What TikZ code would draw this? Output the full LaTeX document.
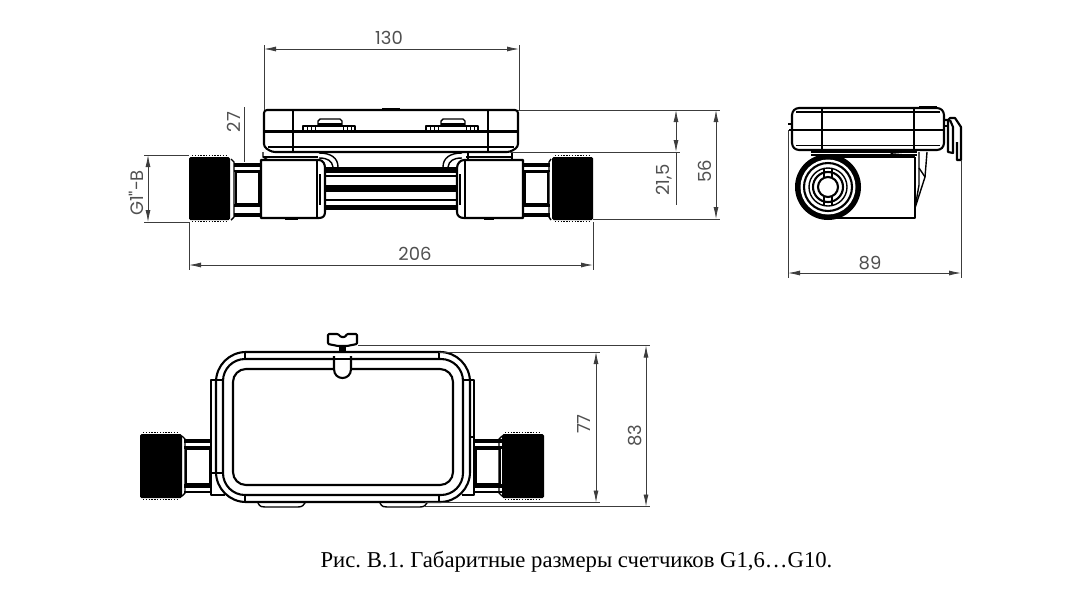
\documentclass[tikz,border=0pt]{standalone}
\usepackage{fontspec}
\setmainfont{Liberation Serif}
\newfontfamily\dimfont{Poppins}
\usetikzlibrary{arrows.meta}
\definecolor{dimgrey}{HTML}{3C3C3C}
\definecolor{valuegrey}{HTML}{505050}
\tikzset{
  part/.style={line width=1.4pt,line join=round},
  heavy/.style={line width=2.1pt,line join=round},
  extline/.style={line width=.8pt,draw=dimgrey},
  dimline/.style={line width=.8pt,draw=dimgrey,{Latex[length=12pt,width=5pt]}-{Latex[length=12pt,width=5pt]}},
  dimlabel/.style={font=\dimfont\fontsize{18}{18}\selectfont,text=valuegrey,inner sep=0pt},
  thread/.style={line width=1.2pt,dash pattern=on 1.4pt off 1.4pt},
}
\begin{document}
\begin{tikzpicture}[x=1pt,y=-1pt]
  \useasboundingbox (0,0) rectangle (1078,614);

  % Draw the front view housing
  \draw[heavy,fill=white,rounded corners=3pt] (264,110) -- (518,110) -- (518,147) -- (510,152) -- (272,152) -- (264,147) -- cycle;
  \draw[heavy] (264,131.5) -- (518,131.5);
  \draw[heavy] (268,147) -- (514,147);
  \draw[part] (293,110) -- (293,152);
  \draw[part] (488,110) -- (488,152);
  \draw[part] (382,108.5) -- (400,108.5);

  % Draw the two latches on the housing
  \foreach \tabx in {303,426}{
    \draw[part] (\tabx,131) -- (\tabx,126) -- (\tabx+52,126) -- (\tabx+52,131);
    \draw[part] (\tabx+15,126) -- (\tabx+15,121) -- (\tabx+17,119) -- (\tabx+37,119) -- (\tabx+39,121) -- (\tabx+39,126);
    \draw[part] (\tabx+15,124) -- (\tabx+39,124);
    \foreach \tabdx in {4,8,12,40,44,48}
      \draw (\tabx+\tabdx,126) -- (\tabx+\tabdx,131);
  }

  % Draw the pipe bars between the blocks
  \fill (323,167) rectangle (457,172.5);
  \fill (323,175) rectangle (457,177);
  \fill (323,185) rectangle (457,192);
  \fill (323,199) rectangle (457,201);
  \fill (323,204.5) rectangle (457,210);

  % Draw the bends under the housing
  \draw[part] (319,153) .. controls (331,153) and (338,158) .. (338,167);
  \draw[part] (319,158) .. controls (328,158) and (332,161) .. (333,167);
  \draw[part] (462,153) .. controls (450,153) and (443,158) .. (443,167);
  \draw[part] (462,158) .. controls (453,158) and (449,161) .. (448,167);

  % Draw the feet under the housing
  \draw[part] (263,152) -- (263,157) -- (268,160);
  \draw[part] (263,157) -- (318,157);
  \draw[part] (268,160) .. controls (272,165) and (280,165) .. (284,160);
  \draw[part] (466,160) .. controls (470,166) and (482,166) .. (486,160);
  \draw[part] (468,153) -- (468,159);
  \draw[part] (466,157) -- (512,157);
  \draw[part] (512,153) -- (512,159);

  % Draw the left and right blocks
  \draw[heavy,fill=white] (261,160) -- (319,160) .. controls (323,160) and (325,164) .. (325,168) -- (325,212) .. controls (325,216) and (323,218) .. (319,218) -- (261,218) -- cycle;
  \draw[part] (317,160) -- (317,218);
  \draw[part] (320,174) -- (320,205);
  \draw[heavy,fill=white] (523,160) -- (464,160) .. controls (460,160) and (457,164) .. (457,168) -- (457,212) .. controls (457,216) and (460,218) .. (464,218) -- (523,218) -- cycle;
  \draw[part] (465,160) -- (465,218);
  \draw[part] (460,174) -- (460,205);
  \draw[part] (285,219) -- (298,219);
  \draw[part] (484,219) -- (494,219);

  % Draw the connectors and nuts of the front view
  \foreach \pipex/\nutx in {234/189,523/552}{
    \fill (\pipex,163) rectangle (\pipex+27,167);
    \fill (\pipex,170) rectangle (\pipex+27,172);
    \fill (\pipex,204) rectangle (\pipex+27,207);
    \fill (\pipex,212.5) rectangle (\pipex+27,217);
    \draw[part] (\pipex+2,172) rectangle (\pipex+25,204);
    \fill[rounded corners=1.5pt] (\nutx,157) rectangle (\nutx+41,220);
    \draw[thread] (\nutx+3,155.5) -- (\nutx+38,155.5);
    \draw[thread] (\nutx+3,221.5) -- (\nutx+38,221.5);
  }
  \draw[part] (231,159) -- (234,162) -- (234,217) -- (231,220);
  \draw[part] (551,159) -- (549,162) -- (549,217) -- (551,220);

  % Draw the side view housing
  \draw[heavy,rounded corners=3pt] (792,112) -- (796,108) -- (940,108) -- (944,112) -- (944,146) -- (940,150) -- (796,150) -- (792,146) -- cycle;
  \draw[heavy] (789,130) -- (944,130);
  \draw[part] (796,145.5) -- (940,145.5);
  \draw[part] (796,112) -- (940,112);
  \draw[part] (822,108) -- (822,150);
  \draw[part] (914,108) -- (914,150);
  \draw[part] (919,106.5) -- (937,106.5);
  \draw[part] (788,124) -- (792,124);

  % Draw the hook on the side view
  \draw[heavy] (944,120) -- (948,120) -- (950,118) -- (955,118) -- (961,127) -- (961,160) -- (957,160) -- (957,142);
  \draw[heavy] (948,120) -- (948,152) -- (953,153) -- (953,127) -- (950,120);
  \draw[part] (944,126) -- (948,126);

  % Draw the block of the side view
  \draw[part] (811,152) -- (917,152);
  \draw[part] (811,155) -- (917,155);
  \draw[heavy] (829,157) -- (915,157);
  \draw[part] (829,218) -- (915,218) -- (915,157);
  \fill (890,153) .. controls (897,159) and (908,159) .. (914,155) -- cycle;
  \draw[part] (919,152) -- (919,185) -- (915,208);
  \draw[part] (927,152) -- (925,177) -- (915,208);
  \draw[part] (919,168) -- (925,177);

  % Draw the connector seen from the end
  \fill[fill=black] (828,187) circle (33);
  \fill[fill=white] (828,187) circle (27.5);
  \draw[heavy] (828,187) circle (24);
  \draw[part] (828,187) circle (19);
  \draw[heavy] (828,187) circle (15);
  \fill[white] (828,187) circle (13);
  \draw[heavy] (828,187) circle (10);
  \draw[part] (824,169) -- (824,177);
  \draw[part] (832,169) -- (832,177);
  \draw[part] (824,197) -- (824,205);
  \draw[part] (832,197) -- (832,205);

  % Draw the plan view frame
  \draw[part,fill=white] (211,380) rectangle (216,473);
  \draw[part,fill=white] (470,380) rectangle (474,437);
  \draw[part] (211,473) -- (211,495) -- (225,495);
  \draw[part] (474,437) -- (474,495) -- (462,495);
  \draw[heavy,fill=white,rounded corners=30pt] (216,352) rectangle (470,502);
  \draw[heavy,rounded corners=22pt] (223,359) rectangle (463,495);
  \draw[heavy,rounded corners=13pt] (233,369) rectangle (453,485);
  \draw[part] (245,352) -- (245,359);
  \draw[part] (439,352) -- (439,359);
  \draw[part] (245,495) -- (245,502);
  \draw[part] (439,495) -- (439,502);
  \draw[part] (216,380) -- (223,380);
  \draw[part] (463,380) -- (470,380);
  \draw[part] (216,473) -- (223,473);

  % Draw the screw and its loop
  \draw[heavy,fill=white,rounded corners=1pt] (328,334) -- (338,334) -- (341,337) -- (345,337) -- (347,334) -- (357,334) -- (357,344) -- (347,346) -- (338,346) -- (328,344) -- cycle;
  \fill (339,346) rectangle (346,352);
  \draw[part] (325,352) -- (360,352);
  \draw[heavy,fill=white] (334,356) -- (334,369) .. controls (334,381) and (351,381) .. (351,369) -- (351,356);
  \draw[heavy] (334,359) -- (351,359);

  % Draw the feet under the frame
  \draw[part] (258,503) .. controls (260,507) and (262,507) .. (265,507) -- (298,507) .. controls (302,507) and (304,505) .. (305,503);
  \draw[part] (380,503) .. controls (382,507) and (384,507) .. (387,507) -- (420,507) .. controls (424,507) and (426,505) .. (427,503);

  % Draw the connectors and nuts of the plan view
  \foreach \pipex/\nutx in {184/140,474/502}{
    \fill (\pipex,439) rectangle (\pipex+28,443);
    \fill (\pipex,446) rectangle (\pipex+28,449);
    \fill (\pipex,484) rectangle (\pipex+28,488);
    \fill (\pipex,491) rectangle (\pipex+28,493);
    \draw[part] (\pipex+2,449) rectangle (\pipex+26,484);
    \fill[rounded corners=1.5pt] (\nutx,434) rectangle (\nutx+42,498);
    \draw[thread] (\nutx+3,432.5) -- (\nutx+39,432.5);
    \draw[thread] (\nutx+3,499.5) -- (\nutx+39,499.5);
  }
  \draw[part] (182,436) -- (185,439) -- (185,493) -- (182,496);
  \draw[part] (502,436) -- (499,439) -- (499,493) -- (502,496);

  % Draw the extension lines
  \draw[extline] (264,45) -- (264,110);
  \draw[extline] (519,45) -- (519,110);
  \draw[extline] (244,107) -- (244,162);
  \draw[extline] (144,155) -- (189,155);
  \draw[extline] (144,222) -- (189,222);
  \draw[extline] (189,222) -- (189,270);
  \draw[extline] (593,222) -- (593,270);
  \draw[extline] (518,110) -- (720,110);
  \draw[extline] (510,152) -- (680,152);
  \draw[extline] (593,219) -- (720,219);
  \draw[extline] (676,152) -- (676,205);
  \draw[extline] (788,130) -- (788,278);
  \draw[extline] (961,160) -- (961,278);
  \draw[extline] (439,352) -- (600,352);
  \draw[extline] (425,502.5) -- (600,502.5);
  \draw[extline] (358,345.5) -- (650,345.5);
  \draw[extline] (425,506.5) -- (650,506.5);

  % Draw the dimension lines
  \draw[dimline] (264,49) -- (519,49);
  \draw[dimline] (148,155) -- (148,222);
  \draw[dimline] (189,265) -- (593,265);
  \draw[dimline] (676,110) -- (676,152);
  \draw[dimline] (716,110) -- (716,219);
  \draw[dimline] (788,273) -- (961,273);
  \draw[dimline] (596,352) -- (596,502.5);
  \draw[dimline] (646,345.5) -- (646,506.5);

  % Put the values on them
  \node[dimlabel] (l130) at (389,38) {130};
  \node[dimlabel,rotate=90] (l27) at (234,122) {27};
  \node[dimlabel,rotate=90] (lg1) at (136,193) {G1"-B};
  \node[dimlabel] (l206) at (415,254) {206};
  \node[dimlabel,rotate=90] (l215) at (664,180) {21,5};
  \node[dimlabel,rotate=90] (l56) at (705,171) {56};
  \node[dimlabel] (l89) at (870,263) {89};
  \node[dimlabel,rotate=90] (l77) at (584,424) {77};
  \node[dimlabel,rotate=90] (l83) at (635,436) {83};

  % Put the caption below
  \node[inner sep=0pt,font=\fontsize{22.7}{22.7}\selectfont\frenchspacing] (caption) at (576.5,562) {Рис. В.1. Габаритные размеры счетчиков G1,6…G10.};
\end{tikzpicture}
\end{document}
